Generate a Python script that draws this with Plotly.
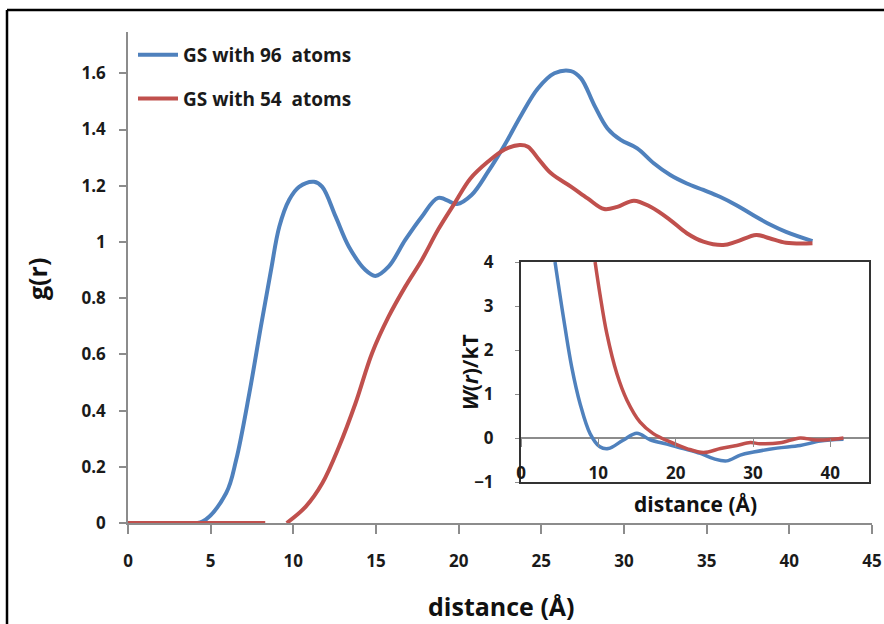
import plotly.graph_objects as go

W, H = 884, 624

# ---------------- data ----------------
dist96 = [0, 3.0, 4.5, 5.94, 6.54, 7.34, 8.04, 8.65, 9.15, 9.75, 10.35, 11.25, 11.75, 12.56,
          13.36, 14.36, 14.96, 15.76, 16.77, 17.77, 18.77, 19.9, 20.78, 21.78, 22.78, 23.78,
          24.79, 25.79, 26.79, 27.4, 28.2, 29.0, 29.8, 30.8, 31.8, 32.8, 33.8, 34.8, 35.8,
          36.8, 37.8, 38.8, 39.8, 41.4]
g96 = [0, 0, 0.005, 0.107, 0.224, 0.462, 0.70, 0.90, 1.054, 1.15, 1.196, 1.214, 1.196, 1.09,
       0.983, 0.90, 0.879, 0.912, 1.007, 1.09, 1.157, 1.135, 1.167, 1.25, 1.345, 1.451,
       1.546, 1.60, 1.608, 1.582, 1.487, 1.404, 1.363, 1.333, 1.28, 1.238, 1.208, 1.185, 1.161,
       1.131, 1.096, 1.063, 1.036, 1.003]

dist54 = [0, 4.0, 8.3, None, 9.6, 10.75, 11.75, 12.76, 13.76, 14.76, 15.76, 16.77, 17.77, 18.77,
          19.78, 20.7, 21.78, 22.78, 23.69, 24.19, 24.79, 25.59, 26.79, 27.8, 28.8, 29.6, 30.6,
          31.6, 32.8, 33.8, 34.8, 36.0, 36.8, 38.0, 38.8, 39.8, 41.4]
g54 = [0, 0, 0, None, 0.0, 0.058, 0.141, 0.271, 0.426, 0.604, 0.734, 0.841, 0.936, 1.045,
       1.14, 1.225, 1.286, 1.329, 1.345, 1.339, 1.298, 1.244, 1.197, 1.155, 1.117, 1.125, 1.147,
       1.125, 1.078, 1.031, 1.001, 0.989, 1.001, 1.025, 1.013, 0.997, 0.995]

w_dist96 = [4.4, 5.48, 6.56, 7.64, 8.93, 10.2, 11.3, 13.2, 14.98, 16.7, 18.86, 21.0, 23.2, 24.9,
            26.6, 28.35, 30.07, 33.1, 36.1, 38.7, 41.7]
w96 = [4.0, 2.75, 1.61, 0.78, 0.1, -0.2, -0.24, -0.05, 0.11, -0.04, -0.14, -0.24, -0.35, -0.47,
       -0.52, -0.39, -0.32, -0.23, -0.17, -0.07, -0.03]

w_dist54 = [9.58, 10.2, 11.1, 12.4, 13.7, 15.4, 17.1, 19.3, 21.45, 23.6, 25.8, 27.9, 29.65, 30.9,
            33.5, 36.1, 37.8, 39.6, 41.7]
w54 = [4.0, 3.28, 2.37, 1.46, 0.86, 0.36, 0.1, -0.09, -0.24, -0.33, -0.24, -0.17, -0.105, -0.13,
       -0.11, 0.0, -0.04, -0.04, 0.0]

main_xticks = [0, 5, 10, 15, 20, 25, 30, 35, 40, 45]
main_yticks = [0, 0.2, 0.4, 0.6, 0.8, 1, 1.2, 1.4, 1.6]
main_yticklabels = ["0", "0.2", "0.4", "0.6", "0.8", "1", "1.2", "1.4", "1.6"]
inset_xticks = [0, 10, 20, 30, 40]
inset_yticks = [-1, 0, 1, 2, 3, 4]

names = ["GS with 96  atoms", "GS with 54  atoms"]

BLUE = "#4F81BD"
RED = "#C0504D"
FONT = "Open Sans"
TXT = "#1a1a1a"
GRAY = "#8c8c8c"


def px_x(p):
    return p / W


def px_y(p):
    return 1 - p / H


fig = go.Figure()

fig.add_trace(go.Scatter(x=dist96, y=g96, mode="lines", name=names[0], legendgroup="a",
                         line=dict(color=BLUE, width=4, shape="spline", smoothing=1.0),
                         xaxis="x", yaxis="y"))
fig.add_trace(go.Scatter(x=dist54, y=g54, mode="lines", name=names[1], legendgroup="b",
                         connectgaps=False,
                         line=dict(color=RED, width=4, shape="spline", smoothing=1.0),
                         xaxis="x", yaxis="y"))

fig.add_trace(go.Scatter(x=w_dist96, y=w96, mode="lines", showlegend=False,
                         line=dict(color=BLUE, width=3.5, shape="spline", smoothing=1.0),
                         xaxis="x2", yaxis="y2"))
fig.add_trace(go.Scatter(x=w_dist54, y=w54, mode="lines", showlegend=False,
                         line=dict(color=RED, width=3.5, shape="spline", smoothing=1.0),
                         xaxis="x2", yaxis="y2"))

tickfont = dict(family=FONT, size=17, color=TXT, weight="bold")

fig.update_layout(
    width=W, height=H,
    margin=dict(l=0, r=0, t=0, b=0, autoexpand=False),
    paper_bgcolor="white", plot_bgcolor="white",
    font=dict(family=FONT, color=TXT),
    showlegend=True,
    legend=dict(x=px_x(133), y=px_y(36), xanchor="left", yanchor="top",
                font=dict(family=FONT, size=19, color=TXT, weight="bold"),
                tracegroupgap=16, traceorder="grouped", bgcolor="rgba(0,0,0,0)",
                itemwidth=40),
    xaxis=dict(domain=[px_x(128), px_x(872)], range=[0, 45], tickvals=main_xticks,
               showline=True, linecolor=GRAY, linewidth=1.5, ticks="outside", ticklen=9,
               tickcolor=GRAY, tickwidth=1.5, showgrid=False, zeroline=False,
               tickfont=tickfont, ticklabelstandoff=13, ticklabeloverflow="allow",
               anchor="y", fixedrange=True, automargin=False),
    yaxis=dict(domain=[px_y(523), px_y(32)], range=[0, 1.747], tickvals=main_yticks,
               ticktext=main_yticklabels,
               showline=True, linecolor=GRAY, linewidth=1.5, ticks="outside", ticklen=7,
               tickcolor=GRAY, tickwidth=1.5, showgrid=False, zeroline=False,
               tickfont=tickfont, ticklabelstandoff=10, anchor="x", fixedrange=True,
               automargin=False),
    xaxis2=dict(domain=[px_x(521), px_x(869)], range=[0, 45], tickvals=inset_xticks,
                showline=True, mirror=True, linecolor="#333333", linewidth=2,
                ticks="", showgrid=False, zeroline=False,
                tickfont=tickfont, ticklabelposition="inside", ticklabeloverflow="allow",
                anchor="y2", fixedrange=True, automargin=False),
    yaxis2=dict(domain=[px_y(482), px_y(262)], range=[-1, 4], tickvals=inset_yticks,
                showline=True, mirror=True, linecolor="#333333", linewidth=2,
                ticks="outside", ticklen=4, tickcolor=GRAY,
                showgrid=False, zeroline=True, zerolinecolor=GRAY, zerolinewidth=1.5,
                tickfont=tickfont, ticklabelstandoff=18, anchor="x2", fixedrange=True,
                automargin=False),
    xaxis3=dict(overlaying="x2", range=[0, 45], tickvals=inset_xticks, showticklabels=False,
                anchor="free", position=px_y(437.7), side="bottom", showline=False,
                ticks="outside", ticklen=8, tickcolor=GRAY, tickwidth=1.2,
                showgrid=False, zeroline=False, fixedrange=True, automargin=False),
)

# invisible helper trace to activate the tick-only axis at W=0
fig.add_trace(go.Scatter(x=[0], y=[0], mode="lines", showlegend=False, hoverinfo="skip",
                         line=dict(width=0), xaxis="x3", yaxis="y2"))

title_font = dict(family=FONT, size=25, color="#111111", weight="bold")
fig.add_annotation(text="distance (Å)", x=px_x(501), y=px_y(606), xref="paper", yref="paper",
                   showarrow=False, font=title_font, xanchor="center", yanchor="middle")
fig.add_annotation(text="g(r)", x=px_x(37), y=px_y(279), xref="paper", yref="paper",
                   showarrow=False, font=title_font, textangle=-90,
                   xanchor="center", yanchor="middle")
fig.add_annotation(text="distance (Å)", x=px_x(695), y=px_y(504), xref="paper", yref="paper",
                   showarrow=False, font=dict(family=FONT, size=21, color="#111111", weight="bold"),
                   xanchor="center", yanchor="middle")
fig.add_annotation(text="<i>W</i>(<i>r</i>)/kT", x=px_x(470), y=px_y(372), xref="paper",
                   yref="paper", showarrow=False,
                   font=dict(family=FONT, size=21, color="#111111", weight="bold"),
                   textangle=-90, xanchor="center", yanchor="middle")

# outer chart border
fig.add_shape(type="line", xref="paper", yref="paper", x0=px_x(7), x1=px_x(7),
              y0=px_y(10), y1=px_y(630), line=dict(color="black", width=2.5))
fig.add_shape(type="line", xref="paper", yref="paper", x0=px_x(7), x1=px_x(890),
              y0=px_y(10), y1=px_y(10), line=dict(color="black", width=2.5))

fig.write_html("out.html", config={"displayModeBar": False})
